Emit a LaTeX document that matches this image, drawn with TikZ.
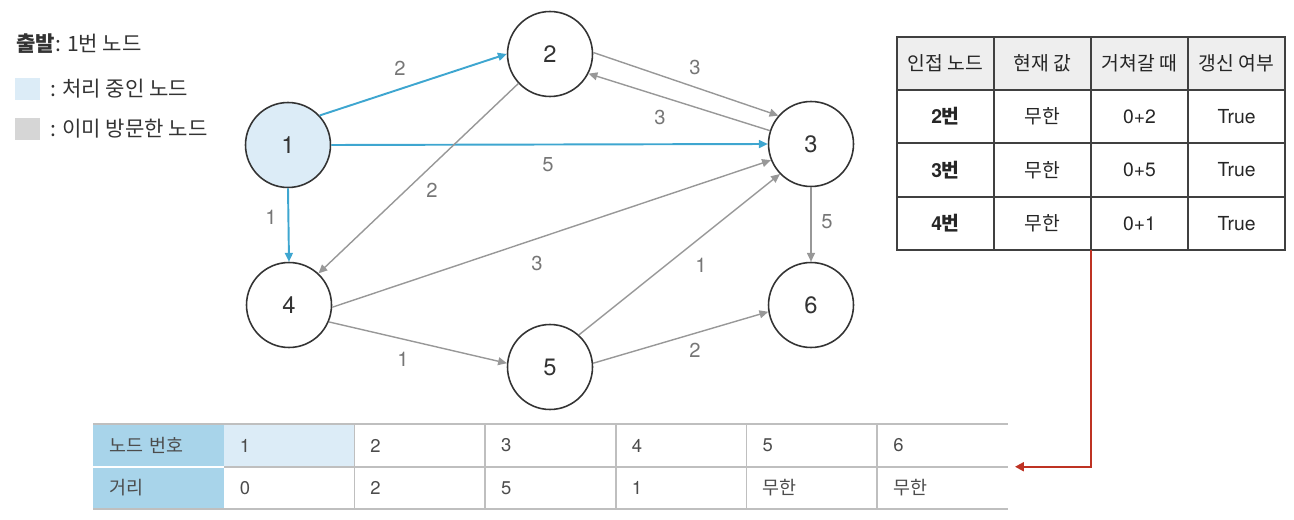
\documentclass[tikz,border=0pt]{standalone}
\usepackage{fontspec}
\setmainfont{TeX Gyre Heros}
\newfontfamily\kr{Noto Sans CJK KR}
\usepackage{xcolor}
\usepackage{tikz}
\usetikzlibrary{arrows.meta, positioning}

\definecolor{arrblue}{RGB}{62,166,208}
\definecolor{arrgray}{RGB}{152,152,152}
\definecolor{lblgray}{RGB}{118,118,118}
\definecolor{curblue}{RGB}{220,236,247}
\definecolor{visgray}{RGB}{214,214,214}
\definecolor{hdrblue}{RGB}{168,212,234}
\definecolor{thgray}{RGB}{238,238,238}
\definecolor{linkred}{RGB}{190,50,35}

\begin{document}
\begin{tikzpicture}[x=0.02cm, y=-0.02cm,
  vnode/.style={circle, draw=black!80, line width=0.9pt, minimum size=1.7cm,
    inner sep=0pt, font=\fontsize{13.5}{16}\selectfont, text=black!80},
  lbl/.style={font=\fontsize{11.5}{14}\selectfont, text=lblgray},
  barr/.style={-{Triangle[length=5pt,width=4.5pt]}, line width=1.1pt, draw=arrblue},
  garr/.style={-{Triangle[length=5pt,width=4.5pt]}, line width=0.8pt, draw=arrgray},
  redarr/.style={-{Triangle[length=5pt,width=5pt]}, line width=1.4pt, draw=linkred},
  legbox/.style={rectangle, minimum width=0.5cm, minimum height=0.44cm, inner sep=0pt},
  legtxt/.style={anchor=west, font=\kr\fontsize{12}{14}\selectfont, text=black!80},
  tcell/.style={rectangle, draw=black!75, line width=0.7pt, minimum width=1.94cm,
    minimum height=1.06cm, inner sep=0pt, outer sep=0pt,
    font=\fontsize{11}{13}\selectfont, text=black!85},
  thead/.style={tcell, fill=thgray},
  bcell/.style={rectangle, minimum width=2.614cm, minimum height=0.85cm, inner ysep=0pt,
    inner xsep=0.32cm, text width=1.974cm, align=left, outer sep=0pt,
    font=\fontsize{10.5}{12}\selectfont, text=black!70},
  tline/.style={draw=black!25, line width=0.9pt},
  cur/.style={fill=curblue},
  plain/.style={}
]
  \useasboundingbox (0,0) rectangle (1294,520);

  % legend
  \node[legtxt] (start) at (10,44) {{\bfseries 출발}: 1번 노드};
  \node[legbox, fill=curblue] (curbox) at (27.5,89) {};
  \node[legtxt] (curtxt) at (44,89) {: 처리 중인 노드};
  \node[legbox, fill=visgray] (visbox) at (27.5,129) {};
  \node[legtxt] (vistxt) at (44,129) {: 이미 방문한 노드};

  % graph
  \node[vnode, fill=curblue] (n1) at (288,145) {1};
  \node[vnode] (n2) at (550,54)  {2};
  \node[vnode] (n3) at (811,144) {3};
  \node[vnode] (n4) at (289,305) {4};
  \node[vnode] (n5) at (550,367) {5};
  \node[vnode] (n6) at (811,305) {6};

  \draw[barr] (n1.43)    -- (n2.180);
  \draw[barr] (n1.east)  -- (n3.west);
  \draw[barr] (n1.south) -- (n4.north);
  \draw[garr] (n2.2)     -- (n3.139);
  \draw[garr] (n3.162)   -- (n2.-27);
  \draw[garr] (n2.223)   -- (n4.47);
  \draw[garr] (n4.-3)    -- (n3.202);
  \draw[garr] (n4.-23)   -- (n5.175);
  \draw[garr] (n5.48)    -- (n3.224);
  \draw[garr] (n5.5)     -- (n6.189);
  \draw[garr] (n3.south) -- (n6.north);

  \node[lbl] (l12) at (400,68)  {2};
  \node[lbl] (l13) at (548,165) {5};
  \node[lbl] (l14) at (271,217) {1};
  \node[lbl] (l23) at (695,67)  {3};
  \node[lbl] (l32) at (660,117) {3};
  \node[lbl] (l24) at (432,190) {2};
  \node[lbl] (l43) at (537,263) {3};
  \node[lbl] (l45) at (403,359) {1};
  \node[lbl] (l53) at (701,265) {1};
  \node[lbl] (l56) at (695,350) {2};
  \node[lbl] (l36) at (827,222) {5};

  % update table
  \node[thead] (ha) at (945.5,63.5)  {\kr 인접 노드};
  \node[thead] (hb) at (1042.5,63.5) {\kr 현재 값};
  \node[thead] (hc) at (1139.5,63.5) {\kr 거쳐갈 때};
  \node[thead] (hd) at (1236.5,63.5) {\kr 갱신 여부};
  \foreach \n/\y/\w in {2/116.5/2, 3/170/5, 4/223.5/1} {
    \node[tcell] (r\n a) at (945.5,\y)  {\bfseries\n\kr 번};
    \node[tcell] (r\n b) at (1042.5,\y) {\kr 무한};
    \node[tcell] (r\n c) at (1139.5,\y) {0+\w};
    \node[tcell] (r\n d) at (1236.5,\y) {True};
  }

  % distance table
  \node[bcell, fill=hdrblue] (t1) at (158.4,445.5) {\kr 노드 번호};
  \node[bcell, fill=hdrblue] (d1) at (158.4,488)   {\kr 거리};
  \foreach \i/\a/\b/\f in {2/1/0/cur, 3/2/2/plain, 4/3/5/plain, 5/4/1/plain,
      6/5/\kr 무한/plain, 7/6/\kr 무한/plain} {
    \node[bcell, \f] (t\i) at ({158.4+(\i-1)*130.7},445.5) {\a};
    \node[bcell] (d\i) at ({158.4+(\i-1)*130.7},488) {\b};
  }
  \draw[tline] (t1.north west) -- (t7.north east);
  \draw[tline] (t2.south west) -- (t7.south east);
  \draw[white, line width=0.9pt] (t1.south west) -- (t1.south east);
  \draw[tline] (d1.south west) -- (d7.south east);
  \foreach \i in {3,...,7}
    \draw[tline] (t\i.north west) -- (d\i.south west);

  \draw[redarr] (r4c.south west) |- ([xshift=4pt]t7.south east);
\end{tikzpicture}
\end{document}
